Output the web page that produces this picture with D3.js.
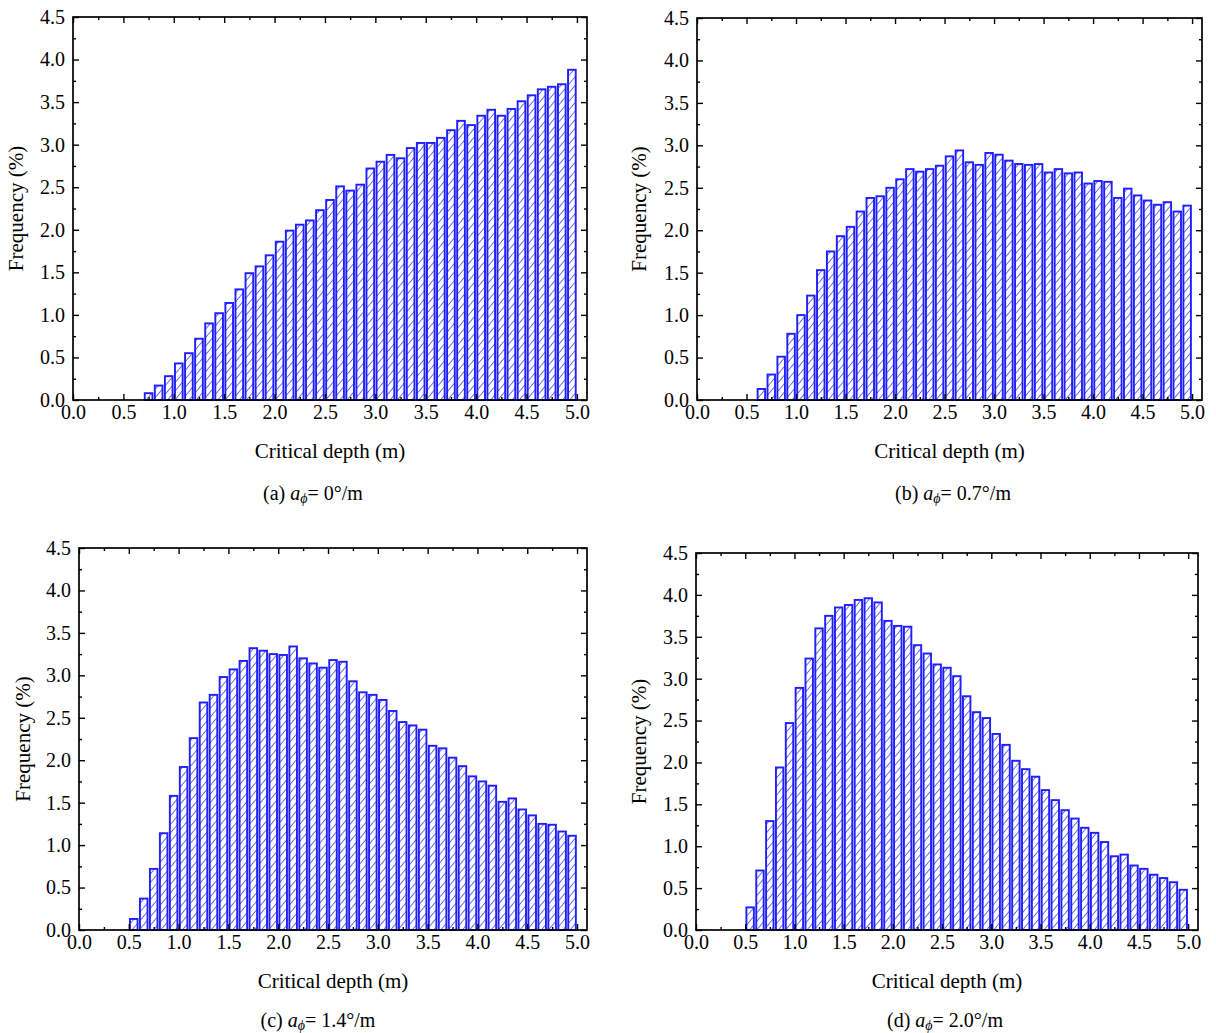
<!DOCTYPE html>
<html>
<head>
<meta charset="utf-8">
<script src="https://cdn.jsdelivr.net/npm/d3@7"></script>
<style>
  body { margin: 0; background: #fff; }
  text { font-family: "Liberation Serif", "Times New Roman", serif; }
</style>
</head>
<body>
<svg id="chart" width="1216" height="1033"></svg>
<script>
// bins are 0.1 m wide, the first bin of each panel starts at startX
const binWidth = 0.1;
const xMajor = [0.0, 0.5, 1.0, 1.5, 2.0, 2.5, 3.0, 3.5, 4.0, 4.5, 5.0];
const yMajor = [0.0, 0.5, 1.0, 1.5, 2.0, 2.5, 3.0, 3.5, 4.0, 4.5];

const startA = 0.7;
const freqA = [0.08, 0.17, 0.28, 0.43, 0.55, 0.72, 0.90, 1.02, 1.14, 1.30,
               1.49, 1.57, 1.70, 1.86, 1.99, 2.06, 2.11, 2.23, 2.35, 2.51,
               2.46, 2.53, 2.72, 2.80, 2.88, 2.84, 2.96, 3.02, 3.02, 3.08,
               3.17, 3.28, 3.23, 3.34, 3.41, 3.34, 3.42, 3.51, 3.58, 3.65,
               3.68, 3.71, 3.88];

const startB = 0.6;
const freqB = [0.13, 0.30, 0.51, 0.78, 1.00, 1.23, 1.53, 1.75, 1.93, 2.04,
               2.22, 2.38, 2.40, 2.50, 2.60, 2.72, 2.69, 2.72, 2.76, 2.87,
               2.94, 2.80, 2.77, 2.91, 2.89, 2.82, 2.78, 2.77, 2.78, 2.68,
               2.72, 2.67, 2.68, 2.55, 2.58, 2.57, 2.38, 2.49, 2.41, 2.35,
               2.30, 2.33, 2.22, 2.29];

const startC = 0.5;
const freqC = [0.13, 0.37, 0.72, 1.14, 1.58, 1.92, 2.26, 2.68, 2.77, 2.98,
               3.07, 3.17, 3.32, 3.29, 3.25, 3.24, 3.34, 3.20, 3.14, 3.09,
               3.18, 3.16, 2.93, 2.80, 2.77, 2.71, 2.58, 2.45, 2.41, 2.36,
               2.17, 2.14, 2.03, 1.93, 1.81, 1.75, 1.70, 1.51, 1.55, 1.42,
               1.35, 1.25, 1.24, 1.16, 1.11];

const startD = 0.5;
const freqD = [0.27, 0.71, 1.30, 1.94, 2.47, 2.89, 3.24, 3.60, 3.75, 3.85,
               3.88, 3.94, 3.96, 3.91, 3.69, 3.63, 3.62, 3.40, 3.30, 3.17,
               3.13, 3.03, 2.79, 2.60, 2.53, 2.34, 2.21, 2.02, 1.92, 1.83,
               1.67, 1.55, 1.43, 1.33, 1.22, 1.16, 1.05, 0.88, 0.90, 0.77,
               0.73, 0.66, 0.62, 0.57, 0.48];

const panelLetters = ["(a)", "(b)", "(c)", "(d)"];
const gradients = ["0", "0.7", "1.4", "2.0"];

// layout of the four panels
const layout = [
  { left: 73,  right: 587,  top: 17,  bottom: 400, capX: 313, xLabY: 453, capY: 494, yLabX: 18 },
  { left: 697, right: 1202, top: 18,  bottom: 400, capX: 953, xLabY: 453, capY: 494, yLabX: 641 },
  { left: 79,  right: 587,  top: 548, bottom: 930, capX: 318, xLabY: 983, capY: 1021, yLabX: 25 },
  { left: 696, right: 1198, top: 553, bottom: 930, capX: 945, xLabY: 983, capY: 1021, yLabX: 641 }
];

const svg = d3.select("#chart");
svg.append("rect").attr("width", 1216).attr("height", 1033).attr("fill", "#fff");

const defs = svg.append("defs");
const pat = defs.append("pattern")
  .attr("id", "hatch")
  .attr("patternUnits", "userSpaceOnUse")
  .attr("width", 5.5).attr("height", 5.5)
  .attr("patternTransform", "rotate(40)");
pat.append("rect").attr("width", 5.5).attr("height", 5.5).attr("fill", "#fff");
pat.append("line").attr("x1", 0).attr("y1", 0).attr("x2", 0).attr("y2", 5.5)
  .attr("stroke", "#1010d8").attr("stroke-width", 1.2);

const fmt = d3.format(".1f");
const fontSize = 21;
const tickFont = 20;

function drawPanel(p, start, freq, letter, grad) {
  const x = d3.scaleLinear().domain([0, 5.1]).range([p.left, p.right]);
  const y = d3.scaleLinear().domain([0, 4.5]).range([p.bottom, p.top]);
  const bins = freq.map((v, i) => ({ x0: start + i * binWidth, v: v }));
  const g = svg.append("g");

  g.append("g").selectAll("rect")
    .data(bins)
    .join("rect")
    .attr("x", d => x(d.x0) + 1.2)
    .attr("width", d => x(d.x0 + binWidth) - x(d.x0) - 2.4)
    .attr("y", d => y(d.v))
    .attr("height", d => y(0) - y(d.v))
    .attr("fill", "url(#hatch)")
    .attr("stroke", "#1e1eff")
    .attr("stroke-width", 1.9);

  const xMinor = xMajor.map(v => v + 0.25).filter(v => v < 5.1);
  const yMinor = yMajor.map(v => v + 0.25).filter(v => v < 4.5);

  // bottom axis with labels
  g.append("g").attr("transform", `translate(0,${p.bottom})`)
    .call(d3.axisBottom(x).tickValues(xMajor).tickSize(-6).tickPadding(5).tickFormat(fmt));
  g.append("g").attr("transform", `translate(0,${p.bottom})`)
    .call(d3.axisBottom(x).tickValues(xMinor).tickSize(-3).tickFormat(""));
  // top axis
  g.append("g").attr("transform", `translate(0,${p.top})`)
    .call(d3.axisTop(x).tickValues(xMajor).tickSize(-6).tickFormat(""));
  g.append("g").attr("transform", `translate(0,${p.top})`)
    .call(d3.axisTop(x).tickValues(xMinor).tickSize(-3).tickFormat(""));
  // left axis with labels
  g.append("g").attr("transform", `translate(${p.left},0)`)
    .call(d3.axisLeft(y).tickValues(yMajor).tickSize(-6).tickPadding(8).tickFormat(fmt));
  g.append("g").attr("transform", `translate(${p.left},0)`)
    .call(d3.axisLeft(y).tickValues(yMinor).tickSize(-3).tickFormat(""));
  // right axis
  g.append("g").attr("transform", `translate(${p.right},0)`)
    .call(d3.axisRight(y).tickValues(yMajor).tickSize(-6).tickFormat(""));
  g.append("g").attr("transform", `translate(${p.right},0)`)
    .call(d3.axisRight(y).tickValues(yMinor).tickSize(-3).tickFormat(""));

  g.selectAll(".domain").remove();
  g.selectAll(".tick line").attr("stroke", "#000").attr("stroke-width", 1.4);
  g.selectAll(".tick text").attr("font-size", tickFont).attr("fill", "#000")
    .style("font-family", '"Liberation Serif", serif');

  g.append("rect")
    .attr("x", p.left).attr("y", p.top)
    .attr("width", p.right - p.left).attr("height", p.bottom - p.top)
    .attr("fill", "none").attr("stroke", "#000").attr("stroke-width", 1.7);

  // axis titles
  g.append("text")
    .attr("x", (p.left + p.right) / 2).attr("y", p.xLabY)
    .attr("text-anchor", "middle").attr("dominant-baseline", "middle")
    .attr("font-size", fontSize).text("Critical depth (m)");
  g.append("text")
    .attr("transform", `translate(${p.yLabX},${(p.top + p.bottom) / 2}) rotate(-90)`)
    .attr("text-anchor", "middle").attr("dominant-baseline", "middle")
    .attr("font-size", fontSize).text("Frequency (%)");

  // caption
  const cap = g.append("text")
    .attr("x", p.capX).attr("y", p.capY + 6)
    .attr("text-anchor", "middle")
    .attr("font-size", 20);
  cap.append("tspan").text(letter + " ");
  cap.append("tspan").attr("font-style", "italic").text("a");
  cap.append("tspan").attr("font-style", "italic").attr("font-size", 14).attr("dy", 3).text("\u03d5");
  cap.append("tspan").attr("dy", -3).text("= " + grad + "\u00b0/m");
}

drawPanel(layout[0], startA, freqA, panelLetters[0], gradients[0]);
drawPanel(layout[1], startB, freqB, panelLetters[1], gradients[1]);
drawPanel(layout[2], startC, freqC, panelLetters[2], gradients[2]);
drawPanel(layout[3], startD, freqD, panelLetters[3], gradients[3]);
</script>
</body>
</html>
